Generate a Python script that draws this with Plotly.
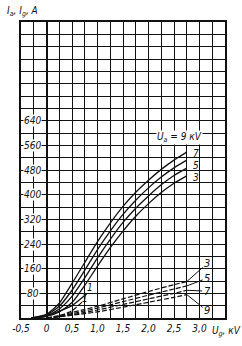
import plotly.graph_objects as go

# ---------------- data ----------------
# anode current Ia (A) vs grid voltage Ug (kV), parameter Ua (kV)
ug_a9 = [-0.30, 0, 0.25, 0.5, 0.75, 1.0, 1.25, 1.5, 1.75, 2.0, 2.25, 2.5, 2.75]
ia_9 = [0, 12, 48, 112, 180, 248, 308, 362, 408, 447, 482, 512, 538]
ug_a7 = [-0.27, 0, 0.25, 0.5, 0.75, 1.0, 1.25, 1.5, 1.75, 2.0, 2.25, 2.5, 2.75]
ia_7 = [0, 10, 38, 90, 155, 222, 282, 336, 382, 422, 457, 487, 512]
ug_a5 = [-0.24, 0, 0.25, 0.5, 0.75, 1.0, 1.25, 1.5, 1.75, 2.0, 2.25, 2.5, 2.75]
ia_5 = [0, 7, 29, 70, 130, 195, 255, 310, 356, 396, 432, 462, 486]
ug_a3 = [-0.20, 0, 0.25, 0.5, 0.75, 1.0, 1.25, 1.5, 1.75, 2.0, 2.25, 2.5, 2.75]
ia_3 = [0, 5, 20, 50, 106, 168, 228, 282, 330, 371, 407, 437, 461]
ug_a1 = [-0.30, 0, 0.25, 0.5, 0.8]
ia_1 = [0, 8, 22, 40, 80]

# grid current Ig (A) vs Ug (kV)
ug_g = [0, 0.25, 0.5, 0.75, 1.0, 1.5, 2.0, 2.5, 2.75]
ig_3 = [0, 8, 18, 28, 38, 62, 86, 108, 118]
ig_5 = [0, 6, 14, 23, 32, 53, 74, 94, 104]
ig_7 = [0, 5, 11, 18, 26, 44, 62, 80, 90]
ig_9 = [0, 4, 9, 14, 20, 35, 51, 67, 76]
ug_g1 = [0, 0.25, 0.5, 0.7]
ig_1 = [0, 6, 24, 52]

# tick labels
x_tick_vals = [-0.5, 0, 0.5, 1.0, 1.5, 2.0, 2.5, 3.0]
x_tick_text = ["-0,5", "0", "0,5", "1,0", "1,5", "2,0", "2,5", "3,0"]
y_tick_vals = [80, 160, 240, 320, 400, 480, 560, 640]
y_tick_text = ["80", "160", "240", "320", "400", "480", "560", "640"]

# curve labels
anode_labels = ["7", "5", "3"]
anode_label_x = [2.83, 2.83, 2.83]
anode_label_y = [535, 495, 455]
grid_labels = ["3", "5", "7", "9"]
grid_label_x = [3.15, 3.15, 3.15, 3.15]
grid_label_y = [177, 129, 87, 23]
grid_curves = [(ug_g, ig_3), (ug_g, ig_5), (ug_g, ig_7), (ug_g, ig_9)]

FONT = "DejaVu Sans Condensed, Liberation Sans Narrow, DejaVu Sans, sans-serif"
INK = "#111111"

fig = go.Figure()

for xs, ys in [(ug_a9, ia_9), (ug_a7, ia_7), (ug_a5, ia_5), (ug_a3, ia_3), (ug_a1, ia_1)]:
    fig.add_trace(go.Scatter(x=xs, y=ys, mode="lines",
                             line=dict(color=INK, width=1.3, shape="spline", smoothing=0.6),
                             showlegend=False, hoverinfo="skip"))

for xs, ys in grid_curves + [(ug_g1, ig_1)]:
    fig.add_trace(go.Scatter(x=xs, y=ys, mode="lines",
                             line=dict(color=INK, width=1.2, dash="5px,2px", shape="spline", smoothing=0.6),
                             showlegend=False, hoverinfo="skip"))

x_grid = [-0.5 + 0.25 * i for i in range(17)]
y_grid = [40 * i for i in range(25)]

fig.update_xaxes(range=[-0.5, 3.5], tickmode="array", tickvals=x_grid,
                 ticktext=[x_tick_text[x_tick_vals.index(v)] if v in x_tick_vals else "" for v in x_grid],
                 showgrid=True, gridcolor=INK, gridwidth=1,
                 zeroline=True, zerolinecolor=INK, zerolinewidth=2,
                 showline=True, mirror=True, linecolor=INK, linewidth=1.5,
                 ticks="", tickfont=dict(family=FONT, size=10, color=INK, style="italic"),
                 fixedrange=True)
fig.update_yaxes(range=[0, 960], tickmode="array", tickvals=y_grid, showticklabels=False,
                 showgrid=True, gridcolor=INK, gridwidth=1, zeroline=False,
                 showline=True, mirror=True, linecolor=INK, linewidth=1.5,
                 ticks="", fixedrange=True)

ann = []
for v, t in zip(y_tick_vals, y_tick_text):
    ann.append(dict(x=-0.27, y=v, xref="x", yref="y", text=t, showarrow=False,
                    xanchor="center", yanchor="middle", bgcolor="white", borderpad=0,
                    font=dict(family=FONT, size=10, color=INK, style="italic")))
for t, x, y in zip(anode_labels, anode_label_x, anode_label_y):
    ann.append(dict(x=x, y=y, xref="x", yref="y", text=t, showarrow=False,
                    xanchor="left", yanchor="middle",
                    font=dict(family=FONT, size=10, color=INK, style="italic")))
ann.append(dict(x=2.6, y=585, xref="x", yref="y", text="U<sub>a</sub> = 9 кV", showarrow=False,
                xanchor="center", yanchor="middle", bgcolor="white", borderpad=0,
                font=dict(family=FONT, size=10, color=INK, style="italic")))
for t, lx, ly, (xs, ys) in zip(grid_labels, grid_label_x, grid_label_y, grid_curves):
    ann.append(dict(x=xs[-1], y=ys[-1], xref="x", yref="y", ax=lx, ay=ly, axref="x", ayref="y",
                    text=t, showarrow=True, arrowhead=0, arrowwidth=1, arrowcolor=INK,
                    standoff=0, startstandoff=0,
                    font=dict(family=FONT, size=11, color=INK, style="italic")))
ann.append(dict(x=0.86, y=100, xref="x", yref="y", text="1", showarrow=False,
                font=dict(family=FONT, size=10, color=INK, style="italic")))
ann.append(dict(x=0.76, y=62, xref="x", yref="y", text="1", showarrow=False,
                font=dict(family=FONT, size=10, color=INK, style="italic")))
ann.append(dict(x=1.005, y=-0.044, xref="paper", yref="paper", text="U<sub>g</sub>, кV",
                showarrow=False, xanchor="center", yanchor="middle",
                font=dict(family=FONT, size=10, color=INK, style="italic")))
ann.append(dict(x=-0.078, y=1.034, xref="paper", yref="paper", text="I<sub>a</sub>, I<sub>g</sub>, A",
                showarrow=False, xanchor="left", yanchor="middle",
                font=dict(family=FONT, size=10, color=INK, style="italic")))

fig.update_layout(width=242, height=346, margin=dict(l=19, r=17, t=22, b=26),
                  paper_bgcolor="white", plot_bgcolor="white", annotations=ann)

fig.write_html("out.html", config={"displayModeBar": False})
